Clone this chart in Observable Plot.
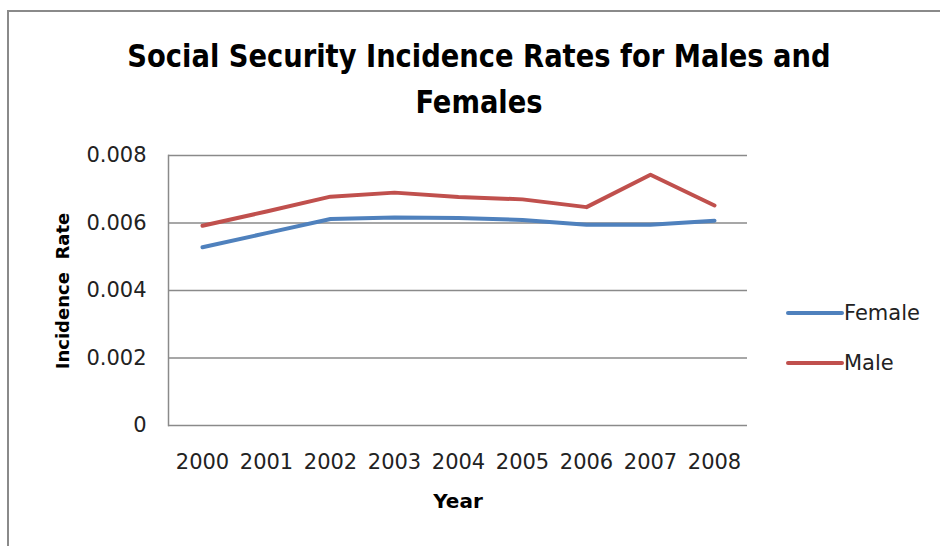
<!DOCTYPE html>
<html>
<head>
<meta charset="utf-8">
<script src="https://cdn.jsdelivr.net/npm/d3@7"></script>
<script src="https://cdn.jsdelivr.net/npm/@observablehq/plot@0.6"></script>
<style>
  html, body { margin: 0; padding: 0; background: #fff; }
  #wrap { position: relative; width: 940px; height: 546px; overflow: hidden; background: #fff; font-family: "DejaVu Sans", sans-serif; }
  #border { position: absolute; left: 7px; top: 10px; width: 940px; height: 546px; border-left: 2px solid #8a8a8a; border-top: 2px solid #8a8a8a; box-sizing: border-box; }
  #title { position: absolute; left: 0; width: 958px; top: 33px; text-align: center; font-family: "DejaVu Sans Condensed", "DejaVu Sans", sans-serif; font-stretch: condensed; font-weight: bold; font-size: 32px; line-height: 46px; color: #000; transform: scaleX(0.95); transform-origin: 479px 0; }
  #chart { position: absolute; left: 0; top: 140px; }
  #ylabel { position: absolute; left: 62px; top: 291px; transform: translate(-50%, -50%) rotate(-90deg); font-weight: bold; font-size: 18px; white-space: nowrap; }
  #xlabel { position: absolute; left: 458px; top: 501px; transform: translate(-50%, -50%); font-weight: bold; font-size: 20px; }
  .leg { position: absolute; left: 786px; display: flex; align-items: center; font-size: 21px; color: #222; }
  .leg svg { display: block; }
</style>
</head>
<body>
<div id="wrap">
  <div id="border"></div>
  <div id="title">Social Security Incidence Rates for Males and<br>Females</div>
  <div id="chart"></div>
  <div id="ylabel">Incidence&nbsp; Rate</div>
  <div id="xlabel">Year</div>
  <div id="legend"></div>
</div>
<script>
const years = ["2000","2001","2002","2003","2004","2005","2006","2007","2008"];
const female = [0.00528, 0.00570, 0.00612, 0.00616, 0.00615, 0.00609, 0.00595, 0.00595, 0.00607];
const male   = [0.00592, 0.00634, 0.00678, 0.00690, 0.00677, 0.00670, 0.00647, 0.00743, 0.00652];
const seriesNames = ["Female", "Male"];
const seriesColors = ["#4F81BD", "#C0504D"];
const yTicks = [0, 0.002, 0.004, 0.006, 0.008];

const rows = [];
years.forEach((y, i) => {
  rows.push({year: y, value: female[i], series: seriesNames[0]});
  rows.push({year: y, value: male[i], series: seriesNames[1]});
});

const chart = Plot.plot({
  width: 760,
  height: 400,
  marginLeft: 168,
  marginRight: 13,
  marginTop: 15,
  marginBottom: 115,
  style: { fontFamily: "DejaVu Sans, sans-serif", fontSize: "21px", color: "#222", background: "transparent" },
  x: { type: "point", domain: years, padding: 0.5, label: null },
  y: { domain: [0, 0.008], label: null },
  color: { domain: seriesNames, range: seriesColors },
  marks: [
    Plot.ruleY(yTicks, { stroke: "#8a8a8a", strokeWidth: 1.5 }),
    Plot.frame({ anchor: "left", stroke: "#8a8a8a", strokeWidth: 1.5 }),
    Plot.axisY({ ticks: yTicks, tickSize: 0, tickPadding: 22, tickFormat: d => d === 0 ? "0" : d.toFixed(3), fontSize: 21, label: null }),
    Plot.axisX({ tickSize: 0, tickPadding: 29, fontSize: 21, label: null }),
    Plot.line(rows, { x: "year", y: "value", z: "series", stroke: "series", strokeWidth: 4, curve: "linear" })
  ]
});
document.getElementById("chart").appendChild(chart);

const legend = document.getElementById("legend");
const legendTops = [313, 363];
seriesNames.forEach((name, i) => {
  const d = document.createElement("div");
  d.className = "leg";
  d.style.top = (legendTops[i] - 13) + "px";
  d.innerHTML = `<svg width="58" height="26"><line x1="2" x2="56" y1="13" y2="13" stroke="${seriesColors[i]}" stroke-width="4" stroke-linecap="round"/></svg><span>${name}</span>`;
  legend.appendChild(d);
});
</script>
</body>
</html>
